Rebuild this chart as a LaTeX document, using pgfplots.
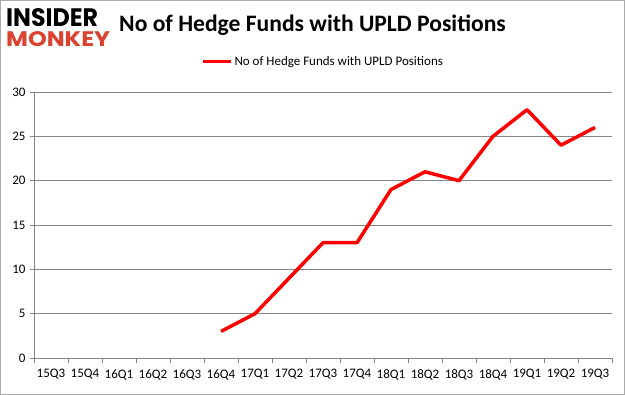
\documentclass[border=0pt]{standalone}
\usepackage{pgfplots}
\pgfplotsset{compat=1.18}
\usepackage{fontspec}
\setmainfont{Carlito}
\definecolor{axisgray}{HTML}{868686}
\definecolor{monkeyred}{HTML}{D9432F}
\begin{document}
\begin{tikzpicture}[x=1pt,y=1pt]
\draw[color=axisgray!70,line width=1.2pt] (0.6,0.6) rectangle (624.4,394.4);
\node[anchor=south west,inner sep=0pt] at (6,368) {\resizebox{92pt}{18pt}{\fontspec{Poppins}\bfseries INSIDER}};
\node[anchor=south west,inner sep=0pt] at (6,348) {\resizebox{104pt}{15pt}{\fontspec{Poppins}\bfseries\color{monkeyred}MONKEY}};
\node[anchor=center,inner sep=0pt] at (312.5,370) {\fontsize{23.6}{27}\selectfont\bfseries No of Hedge Funds with UPLD Positions};
\begin{axis}[
  at={(34pt,37pt)}, anchor=south west,
  scale only axis, width=578pt, height=266pt,
  xmin=-0.5, xmax=16.5, ymin=0, ymax=30,
  ytick={0,5,...,30},
  xtick={0,...,16},
  xticklabels={15Q3,15Q4,16Q1,16Q2,16Q3,16Q4,17Q1,17Q2,17Q3,17Q4,18Q1,18Q2,18Q3,18Q4,19Q1,19Q2,19Q3},
  minor xtick={-0.5,0.5,...,16.5},
  major x tick style={draw=none},
  minor x tick style={axisgray, line width=0.8pt},
  y tick style={axisgray, line width=0.8pt},
  tick align=outside,
  major tick length=4pt, minor tick length=5pt,
  ymajorgrids, grid style={axisgray, line width=0.8pt},
  axis x line*=bottom, axis y line*=left,
  axis line style={axisgray, line width=0.8pt, -},
  tick label style={font=\fontsize{13}{15}\selectfont},
  /pgf/number format/assume math mode=true,
  xticklabel style={yshift=-4pt},
  yticklabel style={xshift=-1pt},
  legend style={at={(0.5,1.115)}, anchor=center, draw=none, fill=none, font=\fontsize{13}{15}\selectfont, inner sep=0pt},
  legend image code/.code={\draw[#1, line width=3.5pt] (0pt,0pt) -- (28pt,0pt);},
  clip=false,
]
\addplot[red, line width=3.5pt, line join=round] coordinates {
 (5,3) (6,5) (7,9) (8,13) (9,13) (10,19) (11,21) (12,20) (13,25) (14,28) (15,24) (16,26)
};
\addlegendentry{No of Hedge Funds with UPLD Positions}
\end{axis}
\end{tikzpicture}
\end{document}
